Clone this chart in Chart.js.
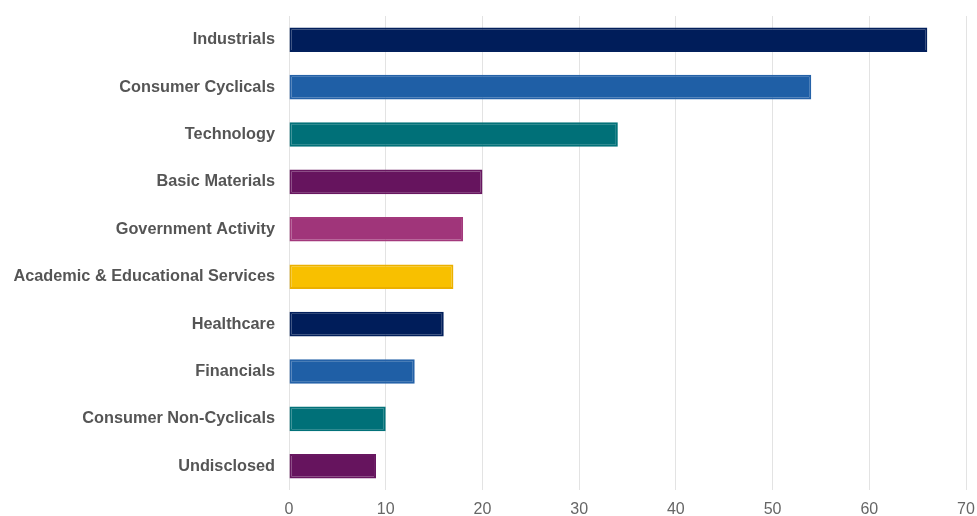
<!DOCTYPE html>
<html>
<head>
<meta charset="utf-8">
<script src="https://cdn.jsdelivr.net/npm/chart.js@4"></script>
<style>
  html, body { margin: 0; padding: 0; background: #fff; }
  #wrap { width: 977px; height: 516px; }
</style>
</head>
<body>
<div id="wrap"><canvas id="sectorChart"></canvas></div>
<script>
const sectors = [
    'Industrials', 'Consumer Cyclicals', 'Technology', 'Basic Materials',
    'Government Activity', 'Academic & Educational Services', 'Healthcare',
    'Financials', 'Consumer Non-Cyclicals', 'Undisclosed'
];
const counts = [66, 54, 34, 20, 18, 17, 16, 13, 10, 9];
const xTicks = [0, 10, 20, 30, 40, 50, 60, 70];

const fillColors = ['#001d5a', '#1f5fa6', '#007078', '#66145e', '#a0357a', '#f8c000', '#001d5a', '#1f5fa6', '#007078', '#66145e'];
const edgeColors = ['#03205c', '#2562a8', '#037279', '#681760', '#a3397c', '#ebb000', '#03205c', '#2562a8', '#037279', '#681760'];

const ctx = document.getElementById('sectorChart').getContext('2d');

new Chart(ctx, {
    type: 'bar',
    data: {
        labels: sectors,
        datasets: [{
            data: counts,
            backgroundColor: fillColors,
            borderColor: edgeColors,
            borderWidth: 2,
            borderSkipped: false,
            barPercentage: 0.52,
            categoryPercentage: 1
        }]
    },
    options: {
        indexAxis: 'y',
        responsive: true,
        maintainAspectRatio: false,
        animation: false,
        layout: { padding: { top: 16, right: 11, left: 0, bottom: 0 } },
        plugins: {
            legend: { display: false },
            tooltip: { enabled: false }
        },
        scales: {
            x: {
                min: 0,
                max: 70,
                afterBuildTicks: scale => {
                    scale.ticks = xTicks.map(v => ({ value: v }));
                },
                afterFit: scale => {
                    scale.height = 26;
                    scale.paddingLeft = 0;
                    scale.paddingRight = 0;
                },
                grid: { color: '#e3e3e3', lineWidth: 1, drawTicks: false },
                border: { display: false },
                ticks: {
                    padding: 10,
                    color: '#666666',
                    font: { family: 'Liberation Sans, Arial, sans-serif', size: 16 }
                }
            },
            y: {
                afterFit: scale => {
                    scale.width = 289;
                    scale.paddingTop = 0;
                    scale.paddingBottom = 0;
                },
                grid: { display: false, drawTicks: false },
                border: { display: false },
                ticks: {
                    padding: 14,
                    color: '#555555',
                    font: { family: 'Liberation Sans, Arial, sans-serif', size: 16.3, weight: 'bold' }
                }
            }
        }
    }
});
</script>
</body>
</html>
